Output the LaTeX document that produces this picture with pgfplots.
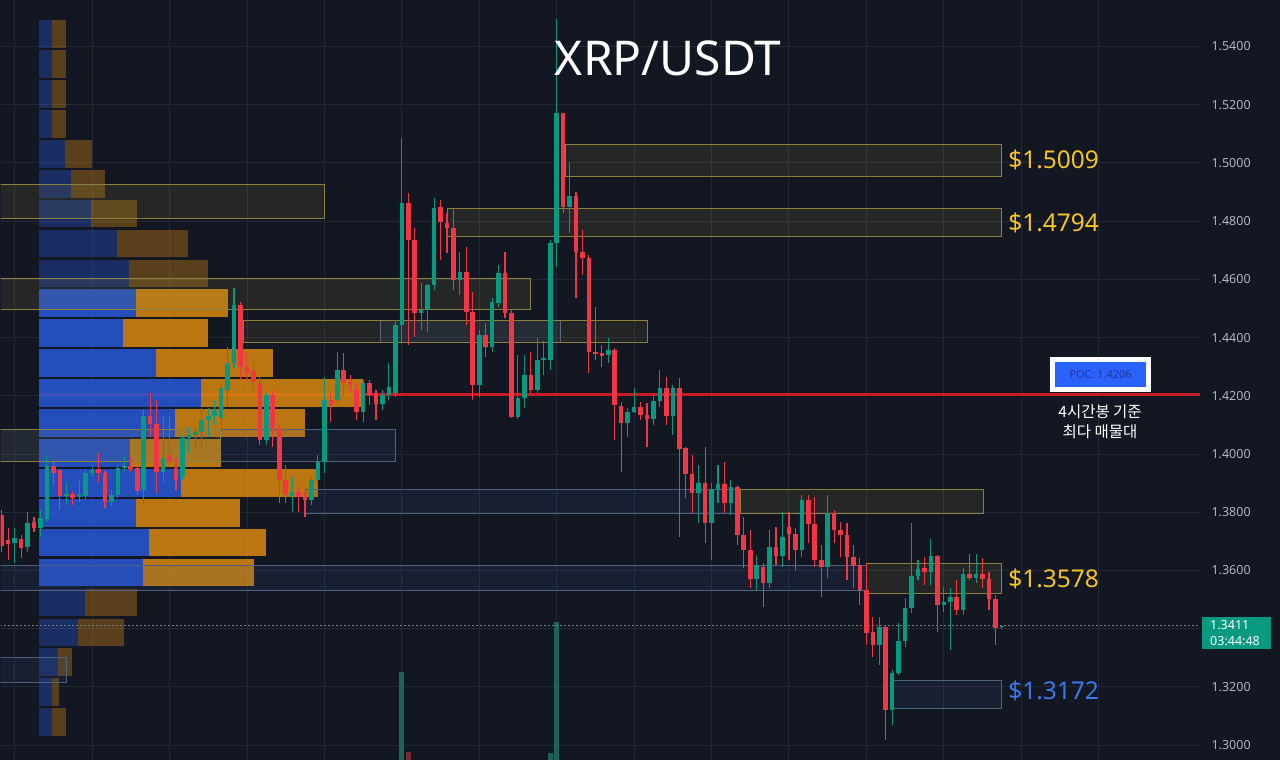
\documentclass[border=0pt]{standalone}
\usepackage{pgfplots}
\pgfplotsset{compat=1.18}
\usepackage{pgfplotstable}
\usepackage{fontspec}
\setmainfont{Noto Sans}
\newfontfamily\krfont{Noto Sans CJK KR}
\definecolor{bgc}{RGB}{19,23,34}
\definecolor{gridc}{RGB}{36,40,52}
\definecolor{upc}{RGB}{8,153,129}
\definecolor{dnc}{RGB}{242,54,69}
\definecolor{vpblue}{RGB}{40,88,215}
\definecolor{vporange}{RGB}{215,135,15}
\definecolor{zyel}{RGB}{140,128,62}
\definecolor{zyelfill}{RGB}{170,160,80}
\definecolor{zblue}{RGB}{78,98,128}
\definecolor{zbluefill}{RGB}{60,95,160}
\definecolor{labyel}{RGB}{245,196,40}
\definecolor{labblue}{RGB}{60,120,235}
\definecolor{tickc}{RGB}{178,181,190}
\definecolor{pocred}{RGB}{200,28,38}
\definecolor{pocblue}{RGB}{41,98,255}
\definecolor{poctext}{RGB}{30,55,150}
\definecolor{dotc}{RGB}{120,126,138}
\definecolor{volup}{RGB}{28,100,88}
\definecolor{voldn}{RGB}{120,40,50}

% up (green) candles: index k, open, high, low, close
\pgfplotstableread{
k o h l c
-59 1.3693 1.3745 1.3625 1.3711
-57 1.3680 1.3800 1.3663 1.3762
-55 1.3745 1.3807 1.3714 1.3779
-54 1.3776 1.3996 1.3766 1.3958
-51 1.3855 1.3903 1.3824 1.3862
-49 1.3851 1.3906 1.3834 1.3862
-48 1.3855 1.3944 1.3841 1.3934
-47 1.3934 1.3954 1.3924 1.3944
-44 1.3834 1.3875 1.3821 1.3858
-43 1.3858 1.3961 1.3848 1.3951
-42 1.3951 1.3989 1.3934 1.3958
-39 1.3875 1.4150 1.3831 1.4130
-36 1.3937 1.4126 1.3899 1.3985
-33 1.3920 1.4061 1.3910 1.4054
-32 1.4054 1.4092 1.4003 1.4064
-31 1.4064 1.4092 1.4023 1.4075
-30 1.4075 1.4157 1.4023 1.4116
-29 1.4116 1.4157 1.4057 1.4130
-28 1.4130 1.4185 1.4099 1.4150
-27 1.4123 1.4243 1.4075 1.4226
-26 1.4219 1.4366 1.4160 1.4312
-25 1.4312 1.4572 1.4294 1.4511
-20 1.4047 1.4209 1.4030 1.4202
-16 1.3855 1.3920 1.3800 1.3869
-13 1.3841 1.3920 1.3824 1.3910
-12 1.3910 1.3996 1.3893 1.3972
-11 1.3972 1.4263 1.3934 1.4185
-9 1.4185 1.4349 1.4178 1.4288
-5 1.4143 1.4253 1.4109 1.4243
-2 1.4171 1.4219 1.4150 1.4202
-1 1.4202 1.4312 1.4185 1.4229
0 1.4209 1.4459 1.4195 1.4442
1 1.4442 1.5084 1.4384 1.4864
4 1.4483 1.4586 1.4425 1.4494
5 1.4494 1.4583 1.4418 1.4579
6 1.4579 1.4881 1.4562 1.4844
10 1.4597 1.4693 1.4545 1.4624
13 1.4236 1.4425 1.4195 1.4408
15 1.4366 1.4535 1.4349 1.4521
16 1.4518 1.4648 1.4504 1.4621
19 1.4126 1.4339 1.4120 1.4191
20 1.4191 1.4339 1.4157 1.4270
22 1.4219 1.4397 1.4209 1.4322
23 1.4322 1.4390 1.4270 1.4329
24 1.4322 1.4734 1.4288 1.4724
25 1.4724 1.5496 1.4641 1.5170
27 1.4847 1.5002 1.4758 1.4888
33 1.4339 1.4397 1.4312 1.4356
36 1.4106 1.4157 1.4057 1.4143
37 1.4143 1.4226 1.4140 1.4160
40 1.4119 1.4202 1.4099 1.4181
41 1.4181 1.4288 1.4160 1.4226
43 1.4130 1.4236 1.4064 1.4226
47 1.3865 1.3961 1.3762 1.3899
49 1.3762 1.3899 1.3635 1.3879
50 1.3879 1.3961 1.3831 1.3896
52 1.3831 1.3910 1.3790 1.3886
56 1.3570 1.3652 1.3532 1.3618
58 1.3556 1.3738 1.3539 1.3680
60 1.3649 1.3800 1.3611 1.3714
63 1.3669 1.3858 1.3645 1.3841
67 1.3611 1.3858 1.3573 1.3797
75 1.3343 1.3439 1.3275 1.3405
77 1.3120 1.3257 1.3069 1.3247
78 1.3247 1.3419 1.3240 1.3357
79 1.3357 1.3505 1.3336 1.3470
80 1.3470 1.3762 1.3453 1.3580
81 1.3580 1.3635 1.3566 1.3604
83 1.3594 1.3707 1.3549 1.3649
85 1.3481 1.3542 1.3457 1.3491
86 1.3491 1.3539 1.3326 1.3508
88 1.3463 1.3608 1.3446 1.3587
90 1.3573 1.3656 1.3556 1.3587
94 1.3405 1.3413 1.3399 1.3411
}\upcandles

% down (red) candles
\pgfplotstableread{
k o h l c
-61 1.3790 1.3807 1.3663 1.3683
-60 1.3704 1.3745 1.3635 1.3690
-58 1.3707 1.3721 1.3642 1.3676
-56 1.3766 1.3783 1.3731 1.3745
-53 1.3958 1.3972 1.3893 1.3934
-52 1.3944 1.3948 1.3807 1.3855
-50 1.3862 1.3872 1.3824 1.3848
-46 1.3948 1.4003 1.3903 1.3934
-45 1.3934 1.3941 1.3814 1.3834
-41 1.3958 1.3989 1.3937 1.3948
-40 1.3951 1.3961 1.3858 1.3872
-38 1.4130 1.4209 1.4057 1.4102
-37 1.4102 1.4185 1.3865 1.3937
-35 1.3996 1.4126 1.3954 1.3972
-34 1.3951 1.3985 1.3875 1.3910
-24 1.4511 1.4521 1.4253 1.4298
-23 1.4298 1.4346 1.4253 1.4277
-22 1.4284 1.4322 1.4219 1.4246
-21 1.4243 1.4263 1.4030 1.4047
-19 1.4202 1.4219 1.4023 1.4088
-18 1.4088 1.4099 1.3831 1.3910
-17 1.3910 1.3961 1.3831 1.3858
-15 1.3869 1.3886 1.3800 1.3851
-14 1.3851 1.3869 1.3783 1.3841
-10 1.4185 1.4209 1.4109 1.4167
-8 1.4288 1.4346 1.4195 1.4243
-7 1.4246 1.4270 1.4212 1.4236
-6 1.4219 1.4243 1.4116 1.4143
-4 1.4243 1.4253 1.4167 1.4202
-3 1.4209 1.4219 1.4116 1.4171
2 1.4864 1.4895 1.4373 1.4734
3 1.4734 1.4775 1.4401 1.4483
7 1.4847 1.4871 1.4665 1.4796
8 1.4792 1.4827 1.4689 1.4775
9 1.4775 1.4844 1.4562 1.4597
11 1.4624 1.4710 1.4442 1.4487
12 1.4487 1.4555 1.4185 1.4236
14 1.4408 1.4449 1.4332 1.4366
17 1.4621 1.4693 1.4469 1.4483
18 1.4483 1.4494 1.4123 1.4126
21 1.4270 1.4349 1.4209 1.4219
26 1.5170 1.5173 1.4827 1.4847
28 1.4888 1.4899 1.4535 1.4693
29 1.4693 1.4768 1.4614 1.4675
30 1.4675 1.4682 1.4277 1.4349
31 1.4349 1.4504 1.4322 1.4342
32 1.4346 1.4373 1.4298 1.4336
34 1.4356 1.4363 1.4047 1.4167
35 1.4164 1.4178 1.3937 1.4106
38 1.4160 1.4178 1.4116 1.4133
39 1.4133 1.4174 1.4023 1.4119
42 1.4226 1.4263 1.4099 1.4130
44 1.4226 1.4260 1.3714 1.4016
45 1.4020 1.4023 1.3848 1.3930
46 1.3930 1.3996 1.3797 1.3865
48 1.3899 1.4023 1.3693 1.3762
51 1.3896 1.3972 1.3797 1.3831
53 1.3886 1.3893 1.3687 1.3721
54 1.3721 1.3783 1.3608 1.3669
55 1.3669 1.3738 1.3539 1.3570
57 1.3611 1.3625 1.3474 1.3556
59 1.3680 1.3748 1.3618 1.3649
61 1.3748 1.3800 1.3635 1.3724
62 1.3724 1.3745 1.3601 1.3669
64 1.3841 1.3858 1.3693 1.3759
65 1.3759 1.3851 1.3611 1.3635
66 1.3635 1.3687 1.3508 1.3611
68 1.3797 1.3807 1.3693 1.3738
69 1.3738 1.3766 1.3645 1.3721
70 1.3721 1.3762 1.3566 1.3645
71 1.3645 1.3687 1.3539 1.3614
72 1.3618 1.3642 1.3481 1.3532
73 1.3532 1.3625 1.3343 1.3384
74 1.3388 1.3439 1.3302 1.3343
76 1.3405 1.3412 1.3017 1.3120
82 1.3608 1.3645 1.3549 1.3594
84 1.3649 1.3652 1.3388 1.3481
87 1.3508 1.3566 1.3446 1.3463
89 1.3587 1.3656 1.3566 1.3573
91 1.3587 1.3642 1.3539 1.3570
92 1.3570 1.3594 1.3463 1.3501
93 1.3501 1.3515 1.3343 1.3402
}\dncandles

% volume profile rows: price level, end of buy (blue) part, end of sell (orange) part (x in px from 39)
\pgfplotstableread{
y b e
1.4518 136 228
1.4415 123 208
1.4312 156 273
1.4209 201 363
1.4107 175 305
1.4004 130 221
1.3901 181 318
1.3798 136 240
1.3696 149 266
1.3593 143 254
}\vpbright
\pgfplotstableread{
y b e
1.5442 52 66
1.5339 52 66
1.5237 52 66
1.5134 52 66
1.5031 65 92
1.4928 71 105
1.4826 91 137
1.4723 117 188
1.4620 129 208
1.3490 85 137
1.3387 78 124
1.3285 58 72
1.3182 52 59
1.3079 52 66
}\vpdim

% visible volume bars at the bottom
\pgfplotstableread{
k v
1 1.3250
24 1.2972
25 1.3422
}\volup
\pgfplotstableread{
k v
2 1.2976
}\voldn

\pgfplotsset{seg/.style={draw=none, mark=none, forget plot}}

\begin{document}
\begin{tikzpicture}
\fill[bgc] (0,0) rectangle (1280pt,760pt);
\begin{axis}[
  at={(0,0)}, anchor=south west,
  scale only axis, width=1200pt, height=760pt,
  xmin=0, xmax=1200, ymin=1.29484, ymax=1.55579,
  clip mode=individual,
  axis line style={draw=none},
  major tick length=0pt,
  tick style={draw=none},
  grid=major, major grid style={draw=gridc, line width=1pt},
  xtick={14.2,91.7,169.1,246.6,324.0,401.5,479.0,556.4,633.9,711.4,788.8,866.3,943.7,1021.2,1098.7},
  xticklabel style={opacity=0},
  ytick={1.30,1.32,1.34,1.36,1.38,1.40,1.42,1.44,1.46,1.48,1.50,1.52,1.54},
  yticklabels={1.3000,1.3200,,1.3600,1.3800,1.4000,1.4200,1.4400,1.4600,1.4800,1.5000,1.5200,1.5400},
  yticklabel pos=right,
  yticklabel style={font=\fontsize{12.5}{14}\selectfont, text=tickc, anchor=west, xshift=8pt},
]

% volume bars at the bottom
\addplot[seg, error bars/.cd, y dir=plus, y explicit, error mark=none,
  error bar style={draw=volup, line width=5pt}]
  table[x expr=395+6.455*\thisrow{k}, y expr=1.29484, y error plus expr=\thisrow{v}-1.29484] {\volup};
\addplot[seg, error bars/.cd, y dir=plus, y explicit, error mark=none,
  error bar style={draw=voldn, line width=5pt}]
  table[x expr=395+6.455*\thisrow{k}, y expr=1.29484, y error plus expr=\thisrow{v}-1.29484] {\voldn};

% POC line
\addplot[draw=pocred, line width=3pt] coordinates {(39,1.4206) (1200,1.4206)};

% volume profile
\addplot[seg, error bars/.cd, x dir=plus, x explicit, error mark=none,
  error bar style={draw=vpblue, line width=27.5pt, opacity=0.85}]
  table[x expr=39, y=y, x error plus expr=\thisrow{b}-39] {\vpbright};
\addplot[seg, error bars/.cd, x dir=plus, x explicit, error mark=none,
  error bar style={draw=vporange, line width=27.5pt, opacity=0.85}]
  table[x=b, y=y, x error plus expr=\thisrow{e}-\thisrow{b}] {\vpbright};
\addplot[seg, error bars/.cd, x dir=plus, x explicit, error mark=none,
  error bar style={draw=vpblue, line width=27.5pt, opacity=0.36}]
  table[x expr=39, y=y, x error plus expr=\thisrow{b}-39] {\vpdim};
\addplot[seg, error bars/.cd, x dir=plus, x explicit, error mark=none,
  error bar style={draw=vporange, line width=27.5pt, opacity=0.36}]
  table[x=b, y=y, x error plus expr=\thisrow{e}-\thisrow{b}] {\vpdim};

% zones
\addplot[draw=zyel, line width=1.2pt, fill=zyelfill, fill opacity=0.12] coordinates {(565,1.5064) (1001,1.5064) (1001,1.4954) (565,1.4954) (565,1.5064)};
\addplot[draw=zyel, line width=1.2pt, fill=zyelfill, fill opacity=0.12] coordinates {(447,1.4844) (1001,1.4844) (1001,1.4748) (447,1.4748) (447,1.4844)};
\addplot[draw=zyel, line width=1.2pt, fill=zyelfill, fill opacity=0.12] coordinates {(-5,1.4926) (324,1.4926) (324,1.4809) (-5,1.4809) (-5,1.4926)};
\addplot[draw=zyel, line width=1.2pt, fill=zyelfill, fill opacity=0.12] coordinates {(-5,1.4603) (530,1.4603) (530,1.4497) (-5,1.4497) (-5,1.4603)};
\addplot[draw=zblue, line width=1.2pt, fill=zbluefill, fill opacity=0.12] coordinates {(380,1.4459) (560,1.4459) (560,1.4384) (380,1.4384) (380,1.4459)};
\addplot[draw=zyel, line width=1.2pt, fill=zyelfill, fill opacity=0.10] coordinates {(243,1.4459) (647,1.4459) (647,1.4384) (243,1.4384) (243,1.4459)};
\addplot[draw=zblue, line width=1.2pt, fill=zbluefill, fill opacity=0.12] coordinates {(-5,1.4085) (395,1.4085) (395,1.3975) (-5,1.3975) (-5,1.4085)};
\addplot[draw=zyel, line width=1.2pt, fill=zyelfill, fill opacity=0.08] coordinates {(-5,1.4085) (220,1.4085) (220,1.3975) (-5,1.3975) (-5,1.4085)};
\addplot[draw=zblue, line width=1.2pt, fill=zbluefill, fill opacity=0.12] coordinates {(305,1.3879) (740,1.3879) (740,1.3797) (305,1.3797) (305,1.3879)};
\addplot[draw=zyel, line width=1.2pt, fill=zyelfill, fill opacity=0.12] coordinates {(740,1.3879) (983,1.3879) (983,1.3797) (740,1.3797) (740,1.3879)};
\addplot[draw=zblue, line width=1.2pt, fill=zbluefill, fill opacity=0.12] coordinates {(-5,1.3618) (866,1.3618) (866,1.3532) (-5,1.3532) (-5,1.3618)};
\addplot[draw=zyel, line width=1.2pt, fill=zyelfill, fill opacity=0.12] coordinates {(866,1.3625) (1001,1.3625) (1001,1.3522) (866,1.3522) (866,1.3625)};
\addplot[draw=zblue, line width=1.2pt, fill=zbluefill, fill opacity=0.12] coordinates {(-5,1.3302) (66,1.3302) (66,1.3216) (-5,1.3216) (-5,1.3302)};
\addplot[draw=zblue, line width=1.2pt, fill=zbluefill, fill opacity=0.12] coordinates {(893,1.3223) (1001,1.3223) (1001,1.3127) (893,1.3127) (893,1.3223)};

% current price line
\addplot[draw=dotc, line width=1pt, dash pattern=on 1.5pt off 2.5pt] coordinates {(0,1.3411) (1200,1.3411)};

% candles: wicks
\addplot[seg, error bars/.cd, y dir=plus, y explicit, error mark=none,
  error bar style={draw=upc, line width=1.1pt}]
  table[x expr=395+6.455*\thisrow{k}, y=l, y error plus expr=\thisrow{h}-\thisrow{l}] {\upcandles};
\addplot[seg, error bars/.cd, y dir=plus, y explicit, error mark=none,
  error bar style={draw=dnc, line width=1.1pt}]
  table[x expr=395+6.455*\thisrow{k}, y=l, y error plus expr=\thisrow{h}-\thisrow{l}] {\dncandles};
% candles: bodies
\addplot[seg, error bars/.cd, y dir=plus, y explicit, error mark=none,
  error bar style={draw=upc, line width=4.6pt}]
  table[x expr=395+6.455*\thisrow{k}, y expr={min(\thisrow{o},\thisrow{c})}, y error plus expr={max(abs(\thisrow{c}-\thisrow{o}),0.00035)}] {\upcandles};
\addplot[seg, error bars/.cd, y dir=plus, y explicit, error mark=none,
  error bar style={draw=dnc, line width=4.6pt}]
  table[x expr=395+6.455*\thisrow{k}, y expr={min(\thisrow{o},\thisrow{c})}, y error plus expr={max(abs(\thisrow{c}-\thisrow{o}),0.00035)}] {\dncandles};

% texts
\node[text=white, font=\fontsize{48}{56}\selectfont] at (axis cs:668,1.5358) {XRP/USDT};
\node[anchor=west, text=labyel, font=\fontsize{24.5}{28}\selectfont, inner sep=0pt] at (axis cs:1008,1.5009) {\$1.5009};
\node[anchor=west, text=labyel, font=\fontsize{24.5}{28}\selectfont, inner sep=0pt] at (axis cs:1008,1.4794) {\$1.4794};
\node[anchor=west, text=labyel, font=\fontsize{24.5}{28}\selectfont, inner sep=0pt] at (axis cs:1008,1.3570) {\$1.3578};
\node[anchor=west, text=labblue, font=\fontsize{24.5}{28}\selectfont, inner sep=0pt] at (axis cs:1008,1.3186) {\$1.3172};
\node[draw=white, line width=5pt, fill=pocblue, text=poctext, minimum width=96pt, minimum height=30pt, inner sep=0pt, font=\fontsize{11}{12}\selectfont] at (axis cs:1100.5,1.4272) {POC: 1.4206};
\node[text=white, align=center, font=\krfont\fontsize{15.5}{20}\selectfont] at (axis cs:1100,1.4112) {4시간봉 기준\\최다 매물대};
\fill[upc] (axis cs:1202,1.3439) rectangle (axis cs:1271,1.3330);
\node[anchor=west, text=white, font=\fontsize{12.5}{14}\selectfont, inner sep=0pt] at (axis cs:1210,1.3411) {1.3411};
\node[anchor=west, text=white, font=\fontsize{12.5}{14}\selectfont, inner sep=0pt] at (axis cs:1210,1.3357) {03:44:48};
\end{axis}
\end{tikzpicture}
\end{document}
